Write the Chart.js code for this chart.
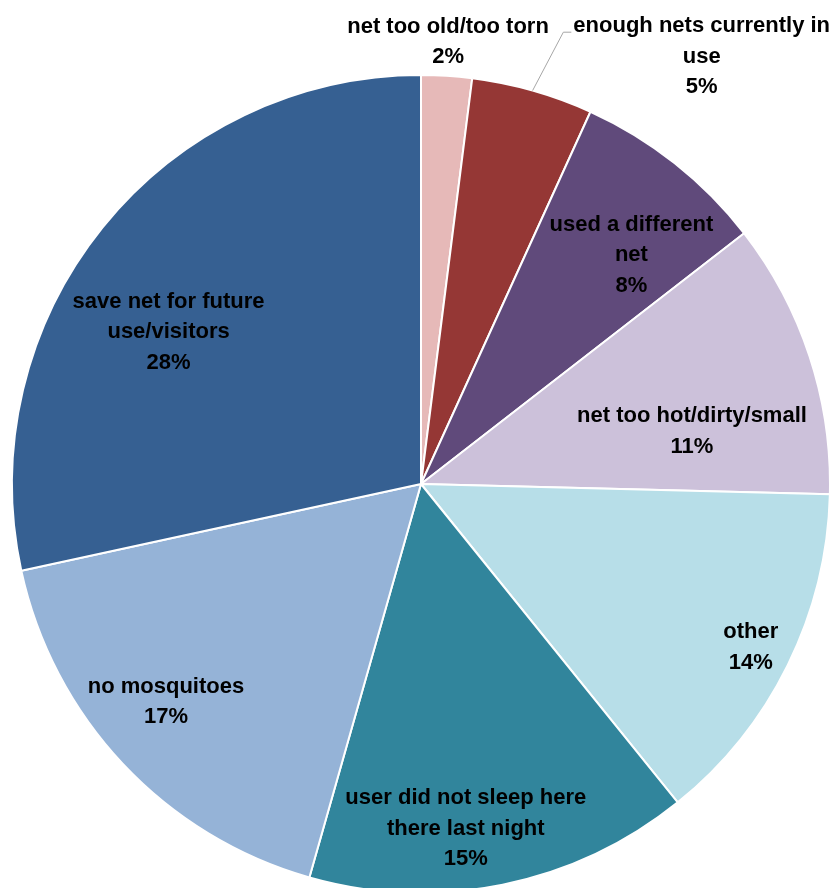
<!DOCTYPE html>
<html>
<head>
<meta charset="utf-8">
<script src="https://cdn.jsdelivr.net/npm/chart.js@4"></script>
<style>
	html, body { margin: 0; padding: 0; background: #fff; overflow: hidden; }
	#wrap { width: 831px; height: 900px; }
</style>
</head>
<body>
<div id="wrap"><canvas id="reasons-chart" width="831" height="900"></canvas></div>
<script>
// 蚊帳を使わなかった理由（割合, %）
const reasons = [
	["net too old/too torn"],
	["enough nets currently in", "use"],
	["used a different", "net"],
	["net too hot/dirty/small"],
	["other"],
	["user did not sleep here", "there last night"],
	["no mosquitoes"],
	["save net for future", "use/visitors"],
];
const shares = [2.0, 4.8, 7.7, 10.9, 13.8, 15.2, 17.2, 28.4];
const sliceColors = [
	"#E6B9B8",
	"#953735",
	"#604A7B",
	"#CCC1DA",
	"#B7DEE8",
	"#31859C",
	"#95B3D7",
	"#366092",
];

// ラベルの置き場所：半径に対する比率と、真上から時計回りの角度(度)
const labelSpots = [
	[1.083, 3.5],
	[1.25, 33.3],
	[0.76, 42.6],
	[0.675, 79],
	[0.9, 116.4],
	[0.85, 172.6],
	[0.82, 229.5],
	[0.72, 301],
];
const LABEL_FONT = "bold 22px 'Liberation Sans', sans-serif";
const LINE_HEIGHT = 30.5;

const sliceLabels = {
	id: "sliceLabels",
	afterDatasetsDraw(chart) {
		const ctx = chart.ctx;
		const arcs = chart.getDatasetMeta(0).data;
		ctx.save();
		ctx.font = LABEL_FONT;
		ctx.fillStyle = "#000";
		ctx.textAlign = "center";
		ctx.textBaseline = "middle";
		arcs.forEach((arc, i) => {
			const { x, y, outerRadius, startAngle, endAngle } = arc.getProps(
				["x", "y", "outerRadius", "startAngle", "endAngle"],
				true
			);
			const [frac, deg] = labelSpots[i];
			const a = (deg - 90) * Math.PI / 180;
			const cx = x + Math.cos(a) * outerRadius * frac;
			const cy = y + Math.sin(a) * outerRadius * frac;
			const lines = [...reasons[i], Math.round(shares[i]) + "%"];
			const top = cy - (lines.length - 1) * LINE_HEIGHT / 2;
			lines.forEach((t, k) => ctx.fillText(t, cx, top + k * LINE_HEIGHT));

			// 外側に置いたラベルには引き出し線を付ける
			if (frac > 1.2) {
				const mid = (startAngle + endAngle) / 2;
				const sx = x + Math.cos(mid) * outerRadius;
				const sy = y + Math.sin(mid) * outerRadius;
				const w = ctx.measureText(lines[0]).width;
				const ex = cx - w / 2 - 10;
				const ey = top + 6;
				ctx.strokeStyle = "#A6A6A6";
				ctx.lineWidth = 1;
				ctx.beginPath();
				ctx.moveTo(sx, sy);
				ctx.lineTo(ex, ey);
				ctx.lineTo(ex + 8, ey);
				ctx.stroke();
			}
		});
		ctx.restore();
	},
};

new Chart(document.getElementById("reasons-chart"), {
	type: "pie",
	data: {
		labels: reasons.map((r) => r.join(" ")),
		datasets: [
			{
				data: shares,
				backgroundColor: sliceColors,
				borderColor: "#fff",
				borderWidth: 2,
			},
		],
	},
	options: {
		responsive: false,
		animation: false,
		layout: { padding: { top: 74, left: 11, right: 0, bottom: 6 } },
		plugins: {
			legend: { display: false },
			tooltip: { enabled: false },
		},
	},
	plugins: [sliceLabels],
});
</script>
</body>
</html>
